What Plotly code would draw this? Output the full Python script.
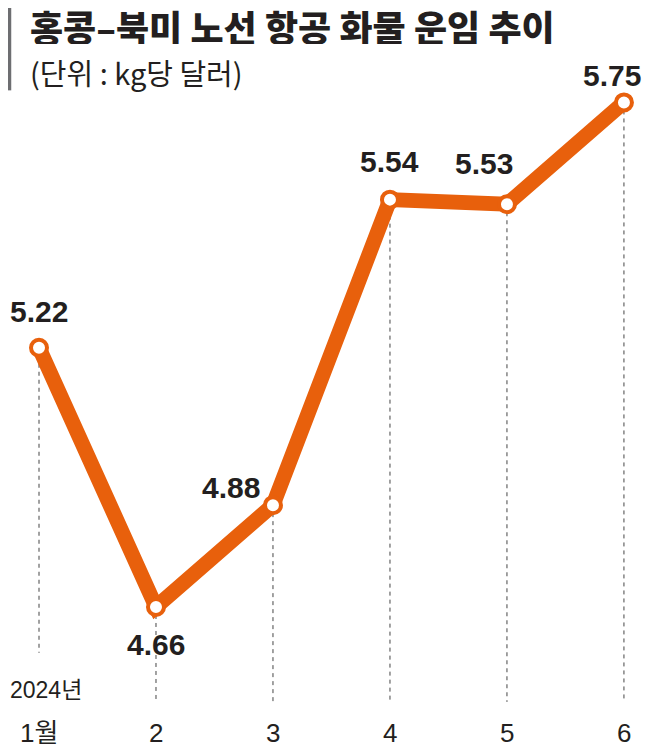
import plotly.graph_objects as go

# 홍콩-북미 노선 항공 화물 운임 (kg당 달러)
months = [1, 2, 3, 4, 5, 6]
tick_labels = ["1월", "2", "3", "4", "5", "6"]
rates = [5.22, 4.66, 4.88, 5.54, 5.53, 5.75]
value_labels = ["5.22", "4.66", "4.88", "5.54", "5.53", "5.75"]

orange = "#E8600C"
ink = "#231F20"
num_font = dict(family="Liberation Sans Narrow, Liberation Sans", size=30, color=ink)
kr_font = "Noto Sans CJK KR"
tick_font = dict(family="Liberation Sans Narrow, Liberation Sans, Noto Sans CJK KR", size=26, color=ink)

fig = go.Figure()

# dashed guide lines from each point down to the month label
guide_bottom = [4.561, 4.455, 4.455, 4.455, 4.455, 4.455]
for m, r, b in zip(months, rates, guide_bottom):
    fig.add_trace(go.Scatter(x=[m, m], y=[r, b], mode="lines",
                             line=dict(color="#444444", width=1, dash="4px,4px"),
                             hoverinfo="skip", showlegend=False))

fig.add_trace(go.Scatter(
    x=months, y=rates, mode="lines+markers",
    line=dict(color=orange, width=15),
    marker=dict(size=16, color="white", line=dict(color=orange, width=4)),
    showlegend=False,
))

# value labels (pixel offsets from the point)
offsets = [(0, -36), (0, 38), (-42, -18), (0, -38), (-23, -41), (-12, -27)]
for m, r, t, (dx, dy) in zip(months, rates, value_labels, offsets):
    fig.add_annotation(x=m, y=r, text="<b>" + t + "</b>", showarrow=False,
                       xshift=dx, yshift=-dy, yanchor="middle", font=num_font)

# month labels
for m, t in zip(months, tick_labels):
    fig.add_annotation(x=m, y=0.023, yref="paper", yanchor="middle", text=t,
                       showarrow=False, font=tick_font)
fig.add_annotation(x=0, xref="paper", xanchor="left", y=0.081, yref="paper",
                   yanchor="middle", text="2024년", showarrow=False,
                   font=dict(family=tick_font["family"], size=23, color=ink))

# title block
fig.add_shape(type="rect", xref="paper", yref="paper", x0=0, x1=0.005, y0=0.889, y1=1,
              fillcolor="#6D6E71", line_width=0)
fig.add_annotation(x=0.031, y=0.9757, xref="paper", yref="paper", xanchor="left",
                   yanchor="middle", height=36, valign="middle",
                   text="홍콩–북미 노선 항공 화물 운임 추이", showarrow=False,
                   font=dict(family=kr_font, size=36, color=ink, weight=900))
fig.add_annotation(x=0.031, y=0.914, xref="paper", yref="paper", xanchor="left",
                   yanchor="middle", text="(단위 : kg당 달러)", showarrow=False,
                   font=dict(family=kr_font, size=29, color=ink))

fig.update_xaxes(range=[0.735, 6.274], visible=False)
fig.update_yaxes(range=[4.351, 5.954], visible=False)
fig.update_layout(width=648, height=742, margin=dict(l=0, r=0, t=0, b=0),
                  plot_bgcolor="white", paper_bgcolor="white")

fig.write_html("out.html")
